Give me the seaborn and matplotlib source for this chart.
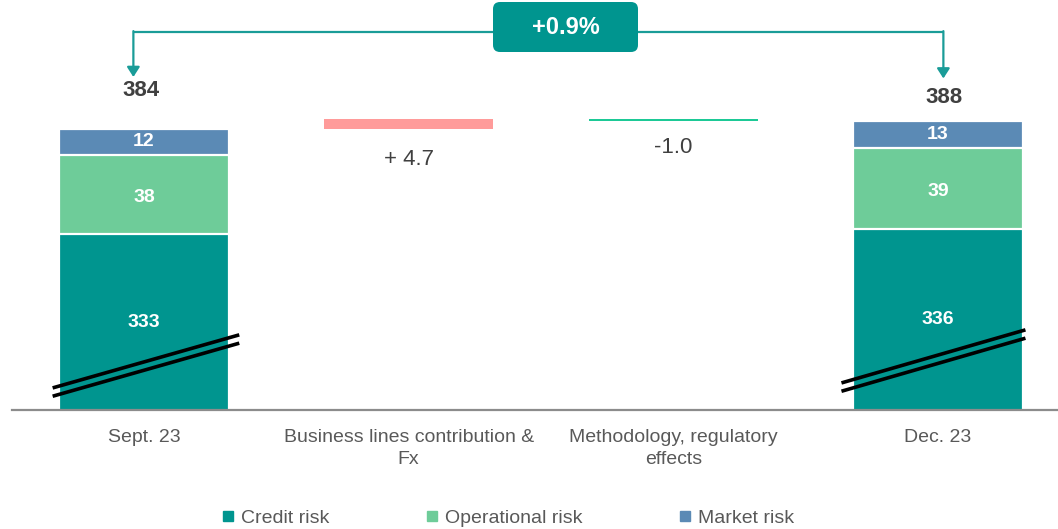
import matplotlib
matplotlib.use("Agg")
import matplotlib.pyplot as plt
from matplotlib.lines import Line2D
from matplotlib.patches import FancyBboxPatch
import pandas as pd
import seaborn as sns

# ---- data -------------------------------------------------------------
categories = ["Sept. 23", "Business lines contribution &\nFx",
              "Methodology, regulatory\neffects", "Dec. 23"]
stack_periods = ["Sept. 23", "Dec. 23"]
credit_risk = [333.4, 336.2]
operational_risk = [38.2, 38.7]
market_risk = [12.4, 12.8]
total_labels = ["384", "388"]
segment_labels = [["333", "38", "12"], ["336", "39", "13"]]
variations = [4.7, -1.0]
variation_labels = ["+ 4.7", "-1.0"]
change_label = "+0.9%"
legend_labels = ["Credit risk", "Operational risk", "Market risk"]

# ---- style ------------------------------------------------------------
C_CREDIT = "#00958F"
C_OPER = "#6ECC99"
C_MARKET = "#5B8AB5"
C_UP = "#FF9B9A"
C_DOWN = "#1DC996"
C_ARROW = "#1A9C98"
C_TEXT = "#404040"
C_AXIS = "#595959"

sns.set_theme(style="white")
plt.rcParams["font.family"] = ["Liberation Sans", "DejaVu Sans"]

fig = plt.figure(figsize=(10.58, 5.29), dpi=100)
ax = fig.add_axes([0.0113, 0.2250, 0.9887, 0.7750])

Y0, Y1 = 249.0, 446.0
BAR_W = 0.64

# cumulative layers of the stacked bars
df = pd.DataFrame({
    "period": stack_periods,
    "credit": credit_risk,
    "credit_oper": [c + o for c, o in zip(credit_risk, operational_risk)],
    "total": [c + o + m for c, o, m in zip(credit_risk, operational_risk, market_risk)],
})

for col, colr in [("total", C_MARKET), ("credit_oper", C_OPER), ("credit", C_CREDIT)]:
    sns.barplot(data=df, x="period", y=col, order=categories, color=colr,
                saturation=1, width=BAR_W, edgecolor="white", linewidth=1.6,
                errorbar=None, ax=ax)

# floating waterfall steps
level = df["total"].iloc[0]
step_colors = [C_UP, C_DOWN]
for i, (v, lab, colr) in enumerate(zip(variations, variation_labels, step_colors)):
    x = i + 1
    ax.bar(x, v, bottom=level, width=BAR_W, color=colr, linewidth=0, zorder=3)
    low = min(level, level + v)
    ax.annotate(lab, (x, low), xytext=(0, -22 if v > 0 else -18.5),
                textcoords="offset points", ha="center", va="center",
                fontsize=16, color=C_TEXT)
    level += v

ax.set_xlim(-0.4987, 3.453)
ax.set_ylim(Y0, Y1)

# segment values, centred on the visible part of each segment
stack_pos = [categories.index(p) for p in stack_periods]
for j, x in enumerate(stack_pos):
    bounds = [Y0, df["credit"].iloc[j], df["credit_oper"].iloc[j], df["total"].iloc[j]]
    for k in range(3):
        lo = max(bounds[k], Y0)
        ax.text(x, (lo + bounds[k + 1]) / 2 - (1.5 if k == 1 else 0), segment_labels[j][k],
                ha="center", va="center", fontsize=14, fontweight="bold",
                color="white", zorder=5)

# totals above the stacks
total_offsets = [28, 17]
total_dx = [-2, 4]
for j, x in enumerate(stack_pos):
    ax.annotate(total_labels[j], (x, df["total"].iloc[j]),
                xytext=(total_dx[j], total_offsets[j]), textcoords="offset points",
                ha="center", va="center", fontsize=16, fontweight="bold", color=C_TEXT)

# axis-break marks across the credit bars
breaks = [(-0.35, 0.35, 259.6, 285.1), (-0.37, 0.32, 262.0, 287.5)]
for x, (dx0, dx1, ya, yb) in zip(stack_pos, breaks):
    for off in (0.0, -4.0):
        ax.plot([x + dx0 + 0.005, x + dx1 + 0.01], [ya + off, yb + off], color="black",
                lw=2.6, solid_capstyle="butt", zorder=6, clip_on=False)

# connector arrows and change box
y_conn = 430.7
arrow_x = [stack_pos[0] - 0.04, stack_pos[1] + 0.02]
arrow_tip = [409.0, 408.3]
box_x = 1.593
for ax_x, tip in zip(arrow_x, arrow_tip):
    ax.plot([ax_x, box_x], [y_conn, y_conn], color=C_ARROW, lw=1.6,
            clip_on=False, zorder=4, solid_capstyle="butt")
    ax.annotate("", xy=(ax_x, tip), xytext=(ax_x, y_conn + 0.35),
                arrowprops=dict(arrowstyle="-|>,head_length=0.42,head_width=0.27",
                                color=C_ARROW, lw=1.6, mutation_scale=14,
                                shrinkA=0, shrinkB=0), zorder=4)

box = FancyBboxPatch((4.93, 5.29 - 0.52), 1.45, 0.50,
                     boxstyle="round,pad=0,rounding_size=0.07",
                     transform=fig.dpi_scale_trans, fc=C_CREDIT, ec="none", zorder=7)
fig.patches.append(box)
fig.text((4.93 + 1.45 / 2) / 10.58, (5.29 - 0.27) / 5.29, change_label,
         ha="center", va="center", fontsize=17, fontweight="bold", color="white",
         zorder=8)

# axes cosmetics
for s in ["left", "right", "top"]:
    ax.spines[s].set_visible(False)
ax.spines["bottom"].set_color("#8C8C8C")
ax.spines["bottom"].set_linewidth(1.6)
ax.set_yticks([])
ax.set_xlabel("")
ax.set_ylabel("")
ax.tick_params(axis="x", length=0, pad=13.5, labelsize=14, labelcolor=C_AXIS)
ax.set_xticks(range(len(categories)))
ax.set_xticklabels(categories, linespacing=1.4, va="top")
ax.grid(False)

handles = [Line2D([], [], marker="s", ls="none", markersize=6.5, color=c)
           for c in [C_CREDIT, C_OPER, C_MARKET]]
fig.legend(handles, legend_labels, loc="center", bbox_to_anchor=(0.4795, 0.02),
           ncol=3, frameon=False, fontsize=14, labelcolor=C_AXIS,
           columnspacing=4.9, handletextpad=0.25, handlelength=0.8)

fig.savefig("out.png", dpi=100)
